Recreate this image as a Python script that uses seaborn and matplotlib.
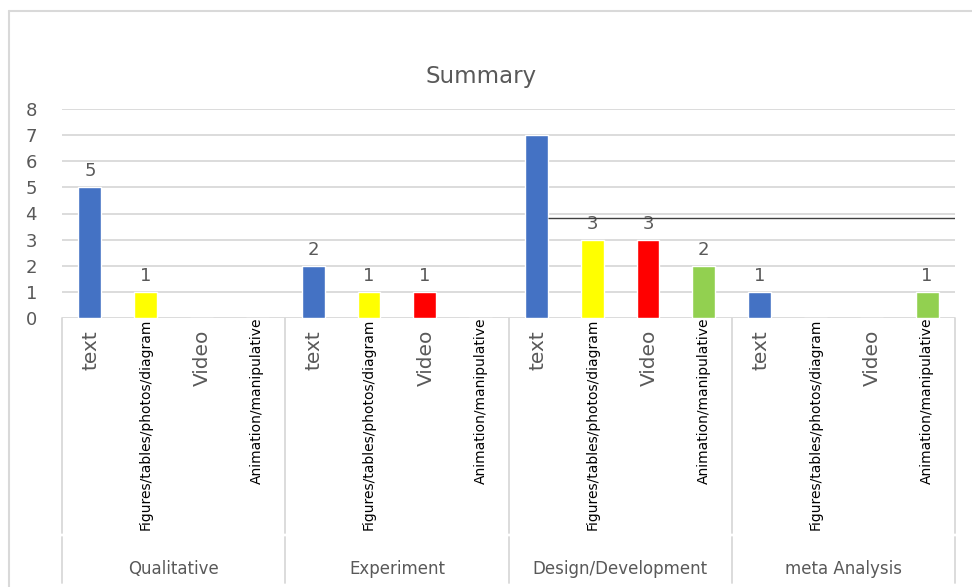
import matplotlib
matplotlib.use("Agg")
import matplotlib.pyplot as plt
from matplotlib.lines import Line2D
from matplotlib.transforms import blended_transform_factory
import seaborn as sns
import pandas as pd

# ---- data ----
groups = ["Qualitative", "Experiment", "Design/Development", "meta Analysis"]
media = ["text", "Figures/tables/photos/diagram", "Video", "Animation/manipulative"]
qualitative = [5, 1, 0, 0]
experiment = [2, 1, 1, 0]
design_development = [7, 3, 3, 2]
meta_analysis = [1, 0, 0, 1]
# data labels as shown on the chart ('' = no label visible)
qualitative_labels = ["5", "1", "", ""]
experiment_labels = ["2", "1", "1", ""]
design_development_labels = ["", "3", "3", "2"]
meta_analysis_labels = ["1", "", "", "1"]
reference_line_value = 3.82
y_ticks = [0, 1, 2, 3, 4, 5, 6, 7, 8]
title = "Summary"

colors = {"text": "#4472C4", "Figures/tables/photos/diagram": "#FFFF00",
          "Video": "#FF0000", "Animation/manipulative": "#92D050"}

all_values = [qualitative, experiment, design_development, meta_analysis]
all_labels = [qualitative_labels, experiment_labels, design_development_labels, meta_analysis_labels]

rows = []
slot = 0
for g, vals, labs in zip(groups, all_values, all_labels):
    for m, v, l in zip(media, vals, labs):
        rows.append({"slot": slot, "group": g, "media": m, "value": v, "label": l})
        slot += 1
df = pd.DataFrame(rows)
n = len(df)

sns.set_style("white")
plt.rcParams["font.family"] = ["DejaVu Sans"]

W, H = 972, 587
fig = plt.figure(figsize=(W / 100, H / 100), dpi=100)
ax_left, ax_right, ax_bottom, ax_top = 62, 955, 318, 109
ax = fig.add_axes([ax_left / W, 1 - ax_bottom / H, (ax_right - ax_left) / W, (ax_bottom - ax_top) / H])

sns.barplot(data=df, x="slot", y="value", hue="media", palette=colors, dodge=False,
            width=0.41, order=list(range(n)), hue_order=media, ax=ax, legend=False,
            saturation=1, zorder=3)

ax.set_xlim(-0.5, n - 0.5)
ax.set_ylim(0, 8)
ax.set_yticks(y_ticks)
ax.set_yticklabels([str(t) for t in y_ticks])
ax.yaxis.grid(True, color="#D9D9D9", linewidth=1.3, zorder=0)
ax.xaxis.grid(False)
ax.set_axisbelow(True)
for s in ax.spines.values():
    s.set_visible(False)
ax.tick_params(axis="y", length=0, pad=18, labelsize=13, labelcolor="#595959")
ax.set_xticks([])
ax.set_xlabel("")
ax.set_ylabel("")

gray = "#595959"

# data labels
for _, r in df.iterrows():
    if r["label"]:
        ax.annotate(r["label"], xy=(r["slot"], r["value"]), xytext=(0, 11.5),
                    textcoords="offset points", ha="center", va="center",
                    fontsize=13, color=gray)

# the dark horizontal line
ax.hlines(reference_line_value, 8 + 0.2, n - 0.5, colors="#404040", linewidth=1.0, zorder=4)

# category labels
fig_y = blended_transform_factory(ax.transData, fig.transFigure)
for _, r in df.iterrows():
    m = r["media"]
    if m in ("text", "Video"):
        ax.text(r["slot"] + 0.02, 1 - 330 / H, m, transform=fig_y, rotation=90, ha="center",
                va="top", fontsize=14.5, color=gray)
    elif m.startswith("Figures"):
        ax.text(r["slot"], 1 - 530 / H, m, transform=fig_y, rotation=90, ha="center",
                va="bottom", fontsize=10, color="black")
    else:
        ax.text(r["slot"], 1 - 318 / H, m, transform=fig_y, rotation=90, ha="center",
                va="top", fontsize=10, color="black")

# group labels
for gi, g in enumerate(groups):
    ax.text(gi * 4 + 1.5, 1 - 569 / H, g, transform=fig_y, ha="center", va="center",
            fontsize=12, color=gray)

# group separators
for b in [-0.5, 3.5, 7.5, 11.5, 15.5]:
    fig.add_artist(Line2D([b, b], [1 - 318 / H, 1 - 533 / H], transform=fig_y,
                          color="#D9D9D9", linewidth=1.3))
    fig.add_artist(Line2D([b, b], [1 - 537 / H, 1 - 583 / H], transform=fig_y,
                          color="#D9D9D9", linewidth=1.3))

# title
fig.text(481 / W, 1 - 76 / H, title, ha="center", va="center", fontsize=16.5, color=gray)

# outer chart border (top and left visible)
fig.add_artist(Line2D([8.5 / W, 1], [1 - 11 / H, 1 - 11 / H], transform=fig.transFigure,
                      color="#D9D9D9", linewidth=1.5))
fig.add_artist(Line2D([8.5 / W, 8.5 / W], [1 - 11 / H, 0], transform=fig.transFigure,
                      color="#D9D9D9", linewidth=1.5))

fig.savefig("out.png", dpi=100, facecolor="white")
